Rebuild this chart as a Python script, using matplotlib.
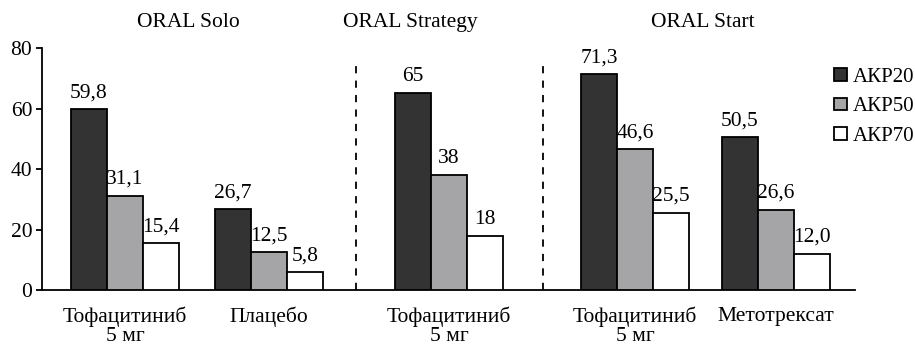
import matplotlib.pyplot as plt
import numpy as np

plt.rcParams['font.family'] = ['Liberation Serif', 'DejaVu Serif']

groups = ['Тофацитиниб\n5 мг', 'Плацебо', 'Тофацитиниб\n5 мг', 'Тофацитиниб\n5 мг', 'Метотрексат']
studies = ['ORAL Solo', 'ORAL Strategy', 'ORAL Start']
series = ['АКР20', 'АКР50', 'АКР70']
akr20 = [59.8, 26.7, 65, 71.3, 50.5]
akr50 = [31.1, 12.5, 38, 46.6, 26.6]
akr70 = [15.4, 5.8, 18, 25.5, 12.0]
labels20 = ['59,8', '26,7', '65', '71,3', '50,5']
labels50 = ['31,1', '12,5', '38', '46,6', '26,6']
labels70 = ['15,4', '5,8', '18', '25,5', '12,0']

colors = ['#333333', '#a5a5a7', '#ffffff']
centers = np.array([125, 269, 449, 635, 776])
w = 36
study_x = [188, 410, 703]
dividers = [356, 543]
fs = 15.5

fig = plt.figure(figsize=(9.15, 3.45), dpi=100)
ax = fig.add_axes([42 / 915, 55 / 345, 813 / 915, 242 / 345])

vals = [akr20, akr50, akr70]
labs = [labels20, labels50, labels70]
for i in range(3):
    x = centers + (i - 1) * w
    bars = ax.bar(x, vals[i], width=w, color=colors[i], edgecolor='black',
                  linewidth=1.3, label=series[i], zorder=3)
    for b, t in zip(bars, labs[i]):
        ax.annotate(t, (b.get_x() + b.get_width() / 2, b.get_height()),
                    xytext=(0, 5), textcoords='offset points',
                    ha='center', va='bottom', fontsize=fs)

for d in dividers:
    ax.plot([d, d], [0, 75], color='black', linestyle=(0, (4, 4)), linewidth=1.3)

for sx, s in zip(study_x, studies):
    ax.text(sx, 88.5, s, ha='center', va='center', fontsize=fs, clip_on=False)

ax.set_xlim(42, 855)
ax.set_ylim(0, 80)
ax.set_yticks([0, 20, 40, 60, 80])
ax.set_xticks(centers)
ax.set_xticklabels(groups, fontsize=fs, linespacing=1.0)
ax.tick_params(axis='x', length=0, pad=12)
ax.tick_params(axis='y', labelsize=fs, length=4, width=1.3, direction='out', pad=3)
ax.spines['top'].set_visible(False)
ax.spines['right'].set_visible(False)
ax.spines['left'].set_linewidth(1.3)
ax.spines['bottom'].set_linewidth(1.3)

fig.legend(loc='upper left', bbox_to_anchor=(834 / 915, 1 - 68 / 345), frameon=False,
           fontsize=15, handlelength=0.6, handleheight=0.55, handletextpad=0.3,
           labelspacing=0.5, borderaxespad=0, borderpad=0)

plt.savefig('out.png', dpi=100)
